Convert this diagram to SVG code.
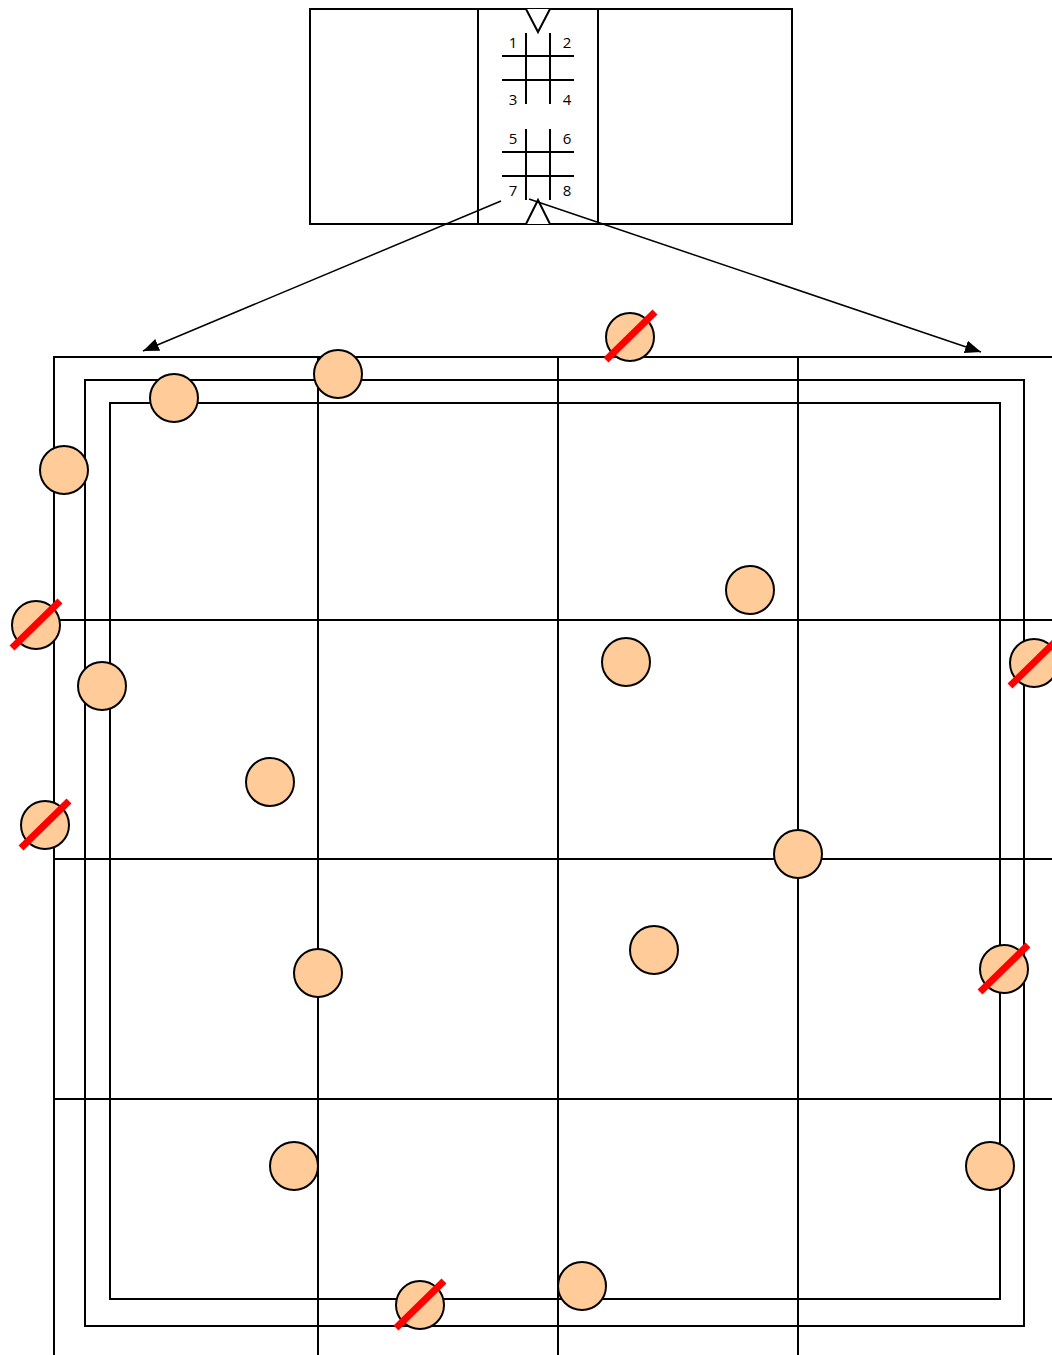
<svg xmlns="http://www.w3.org/2000/svg" width="1052" height="1355" viewBox="0 0 1052 1355">
<style>
.ln{stroke:#000;stroke-width:2;fill:none}
.tri{stroke:#000;stroke-width:2;fill:#fff}
.lbl{font-family:"Open Sans","DejaVu Sans",sans-serif;font-size:15px;fill:#000;text-anchor:middle}
.c{fill:#ffcc99;stroke:#000;stroke-width:2}
.x{stroke:#ff0000;stroke-width:7}
.cn{stroke:#000;stroke-width:1.5;fill:none}
</style>
<defs>
<marker id="ah2" viewBox="0 0 10 10" refX="10" refY="5" markerWidth="16" markerHeight="16" markerUnits="userSpaceOnUse" orient="auto"><path d="M0,1 L10,5 L0,9 z" fill="#000"/></marker>
</defs>
<rect width="1052" height="1355" fill="#fff"/>
<g id="book">
<rect class="ln" x="310" y="9" width="482" height="215"/>
<line class="ln" x1="478" y1="9" x2="478" y2="224"/>
<line class="ln" x1="598" y1="9" x2="598" y2="224"/>
<path class="tri" d="M526,9 L538,32 L550,9"/>
<path class="tri" d="M526,224 L538,200 L550,224"/>
<g class="ln">
<line x1="526" y1="33" x2="526" y2="104"/><line x1="550" y1="33" x2="550" y2="104"/>
<line x1="502" y1="56" x2="574" y2="56"/><line x1="502" y1="80" x2="574" y2="80"/>
<line x1="526" y1="129" x2="526" y2="200"/><line x1="550" y1="129" x2="550" y2="200"/>
<line x1="502" y1="152" x2="574" y2="152"/><line x1="502" y1="176" x2="574" y2="176"/>
</g>
<text class="lbl" x="513" y="48">1</text><text class="lbl" x="567" y="48">2</text>
<text class="lbl" x="513" y="105">3</text><text class="lbl" x="567" y="105">4</text>
<text class="lbl" x="513" y="144">5</text><text class="lbl" x="567" y="144">6</text>
<text class="lbl" x="513" y="196">7</text><text class="lbl" x="567" y="196">8</text>
</g>
<g id="connectors">
<line class="cn" x1="501" y1="201" x2="143" y2="351" marker-end="url(#ah2)"/>
<line class="cn" x1="529" y1="199" x2="981" y2="352" marker-end="url(#ah2)"/>
</g>
<g id="grid" class="ln">
<path d="M54,1355 L54,357 L1052,357"/>
<line x1="54" y1="620" x2="1052" y2="620"/>
<line x1="54" y1="859" x2="1052" y2="859"/>
<line x1="54" y1="1099" x2="1052" y2="1099"/>
<line x1="318" y1="357" x2="318" y2="1355"/>
<line x1="558" y1="357" x2="558" y2="1355"/>
<line x1="798" y1="357" x2="798" y2="1355"/>
<rect x="85" y="380" width="939" height="946"/>
<rect x="110" y="403" width="890" height="896"/>
</g>
<g id="dots">
<g id="d1"><circle class="c" cx="630" cy="337" r="24"/><line class="x" x1="606" y1="360" x2="655" y2="312"/></g>
<g id="d2"><circle class="c" cx="338" cy="374" r="24"/></g>
<g id="d3"><circle class="c" cx="174" cy="398" r="24"/></g>
<g id="d4"><circle class="c" cx="64" cy="470" r="24"/></g>
<g id="d5"><circle class="c" cx="36" cy="625" r="24"/><line class="x" x1="12" y1="648" x2="60" y2="601"/></g>
<g id="d6"><circle class="c" cx="102" cy="686" r="24"/></g>
<g id="d7"><circle class="c" cx="750" cy="590" r="24"/></g>
<g id="d8"><circle class="c" cx="626" cy="662" r="24"/></g>
<g id="d9"><circle class="c" cx="1034" cy="663" r="24"/><line class="x" x1="1010" y1="686" x2="1058" y2="639"/></g>
<g id="d10"><circle class="c" cx="270" cy="782" r="24"/></g>
<g id="d11"><circle class="c" cx="45" cy="825" r="24"/><line class="x" x1="21" y1="848" x2="69" y2="801"/></g>
<g id="d12"><circle class="c" cx="798" cy="854" r="24"/></g>
<g id="d13"><circle class="c" cx="654" cy="950" r="24"/></g>
<g id="d14"><circle class="c" cx="318" cy="973" r="24"/></g>
<g id="d15"><circle class="c" cx="1004" cy="969" r="24"/><line class="x" x1="980" y1="992" x2="1028" y2="945"/></g>
<g id="d16"><circle class="c" cx="294" cy="1166" r="24"/></g>
<g id="d17"><circle class="c" cx="990" cy="1166" r="24"/></g>
<g id="d18"><circle class="c" cx="582" cy="1286" r="24"/></g>
<g id="d19"><circle class="c" cx="420" cy="1305" r="24"/><line class="x" x1="396" y1="1328" x2="444" y2="1281"/></g>
</g>
</svg>
